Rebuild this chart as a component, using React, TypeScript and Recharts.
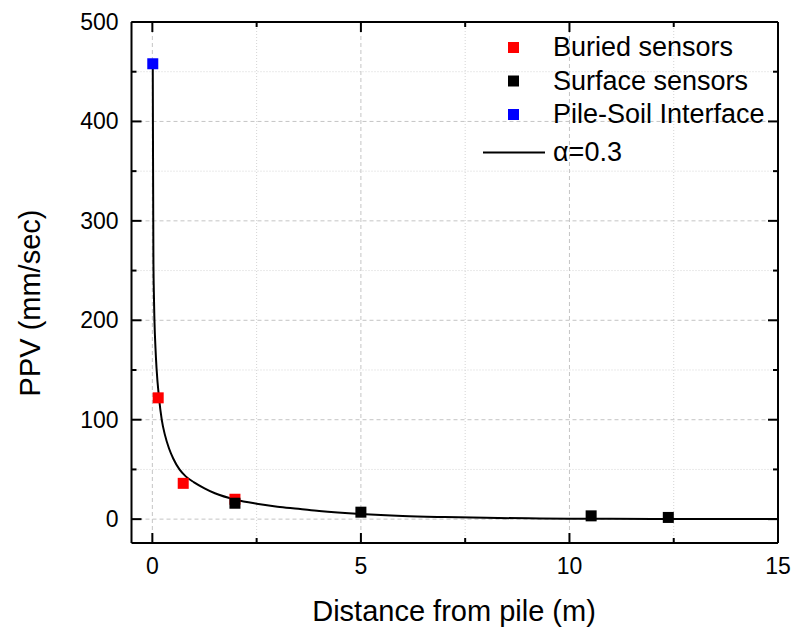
import React from 'react';
import { ComposedChart, Scatter, Line, XAxis, YAxis, CartesianGrid } from 'recharts';

// measured points
const buried = [
  { x: 0.14, y: 122 },
  { x: 0.74, y: 36 },
  { x: 1.98, y: 20 },
];
const surface = [
  { x: 1.98, y: 16 },
  { x: 5.0, y: 7 },
  { x: 10.52, y: 3.3 },
  { x: 12.37, y: 1.7 },
];
const pileSoil = [{ x: 0.01, y: 458 }];

// alpha = 0.3 curve
const fitCurve = [
  { x: 0.01, y: 455 }, { x: 0.015, y: 380 }, { x: 0.02, y: 320 }, { x: 0.025, y: 265 },
  { x: 0.035, y: 230 }, { x: 0.05, y: 200 }, { x: 0.075, y: 172 }, { x: 0.1, y: 152 },
  { x: 0.16, y: 122 }, { x: 0.225, y: 100 }, { x: 0.3, y: 85 }, { x: 0.4, y: 71 },
  { x: 0.5, y: 61 }, { x: 0.65, y: 50 }, { x: 0.8, y: 43 }, { x: 1.0, y: 37 },
  { x: 1.25, y: 31 }, { x: 1.5, y: 26 }, { x: 2.0, y: 19.5 }, { x: 2.5, y: 15.5 },
  { x: 3.0, y: 12.5 }, { x: 3.5, y: 10.5 }, { x: 4.0, y: 8.3 }, { x: 5.0, y: 5.2 },
  { x: 6.0, y: 3.2 }, { x: 7.0, y: 2.1 }, { x: 8.0, y: 1.3 }, { x: 9.0, y: 0.8 },
  { x: 10.0, y: 0.5 }, { x: 11.0, y: 0.3 }, { x: 12.0, y: 0.2 }, { x: 13.5, y: 0.1 },
  { x: 15.0, y: 0.05 },
];

const xTicks = [0, 2.5, 5, 7.5, 10, 12.5, 15];
const yTicks = [0, 50, 100, 150, 200, 250, 300, 350, 400, 450, 500];
const xMajor = [0, 5, 10, 15];
const xMinor = [2.5, 7.5, 12.5];
const yMajor = [0, 100, 200, 300, 400, 500];
const yMinor = [50, 150, 250, 350, 450];

const FONT = 'Arial, "Liberation Sans", sans-serif';

const square = (color: string) => (props: any) => (
  <rect x={props.cx - 5.5} y={props.cy - 5.5} width={11} height={11} fill={color} />
);

const BottomTick = (props: any) => {
  const { x, y, payload } = props;
  const major = payload.value % 5 === 0;
  return (
    <g>
      <line x1={x} y1={y} x2={x} y2={y - (major ? 10 : 5)} stroke="#000" strokeWidth={2} />
      {major && (
        <text x={x} y={y + 31} textAnchor="middle" fontSize={23} fontFamily={FONT} fill="#000">
          {payload.value}
        </text>
      )}
    </g>
  );
};

const TopTick = (props: any) => {
  const { x, y, payload } = props;
  const major = payload.value % 5 === 0;
  return <line x1={x} y1={y} x2={x} y2={y + (major ? 10 : 5)} stroke="#000" strokeWidth={2} />;
};

const LeftTick = (props: any) => {
  const { x, y, payload } = props;
  const major = payload.value % 100 === 0;
  return (
    <g>
      <line x1={x} y1={y} x2={x + (major ? 10 : 5)} y2={y} stroke="#000" strokeWidth={2} />
      {major && (
        <text x={x - 13} y={y + 8} textAnchor="end" fontSize={23} fontFamily={FONT} fill="#000">
          {payload.value}
        </text>
      )}
    </g>
  );
};

const RightTick = (props: any) => {
  const { x, y, payload } = props;
  const major = payload.value % 100 === 0;
  return <line x1={x} y1={y} x2={x - (major ? 10 : 5)} y2={y} stroke="#000" strokeWidth={2} />;
};

export default function App() {
  return (
    <div style={{ position: 'absolute', left: 0, top: 0, width: 793, height: 628, background: '#fff' }}>
      <ComposedChart width={793} height={628} margin={{ top: 0, right: 0, bottom: 0, left: 0 }}>
        <CartesianGrid
          horizontalValues={yMinor}
          verticalValues={xMinor}
          stroke="#d4d4d4"
          strokeDasharray="1 2"
        />
        <CartesianGrid
          horizontalValues={yMajor}
          verticalValues={xMajor}
          stroke="#c4c4c4"
          strokeDasharray="4 3"
        />
        <XAxis
          dataKey="x"
          type="number"
          domain={[-0.5, 15]}
          ticks={xTicks}
          interval={0}
          allowDataOverflow
          height={85}
          tickSize={0}
          tickMargin={0}
          tick={<BottomTick />}
          axisLine={{ stroke: '#000', strokeWidth: 2 }}
          label={() => (
            <text x={454} y={621} textAnchor="middle" fontSize={29} fontFamily={FONT} fill="#000">
              Distance from pile (m)
            </text>
          )}
        />
        <XAxis
          xAxisId="top"
          orientation="top"
          dataKey="x"
          type="number"
          domain={[-0.5, 15]}
          ticks={xTicks}
          interval={0}
          allowDataOverflow
          height={22}
          tickSize={0}
          tickMargin={0}
          tick={<TopTick />}
          axisLine={{ stroke: '#000', strokeWidth: 2 }}
        />
        <YAxis
          dataKey="y"
          type="number"
          domain={[-24, 500]}
          ticks={yTicks}
          interval={0}
          allowDataOverflow
          width={131.5}
          tickSize={0}
          tickMargin={0}
          tick={<LeftTick />}
          axisLine={{ stroke: '#000', strokeWidth: 2 }}
          label={() => (
            <text
              x={40}
              y={303}
              transform="rotate(-90 40 303)"
              textAnchor="middle"
              fontSize={29}
              fontFamily={FONT}
              fill="#000"
            >
              PPV (mm/sec)
            </text>
          )}
        />
        <YAxis
          yAxisId="right"
          orientation="right"
          type="number"
          domain={[-24, 500]}
          ticks={yTicks}
          interval={0}
          allowDataOverflow
          width={15}
          tickSize={0}
          tickMargin={0}
          tick={<RightTick />}
          axisLine={{ stroke: '#000', strokeWidth: 2 }}
        />
        <Scatter data={buried} dataKey="y" shape={square('#ff0000')} isAnimationActive={false} />
        <Scatter data={surface} dataKey="y" shape={square('#000000')} isAnimationActive={false} />
        <Scatter data={pileSoil} dataKey="y" shape={square('#0000ff')} isAnimationActive={false} />
        <Line
          data={fitCurve}
          dataKey="y"
          type="monotone"
          stroke="#000"
          strokeWidth={2}
          dot={false}
          activeDot={false}
          isAnimationActive={false}
        />
      </ComposedChart>

      {/* legend, sits inside the plot top-right */}
      <svg
        width={793}
        height={628}
        style={{ position: 'absolute', left: 0, top: 0, pointerEvents: 'none' }}
        fontFamily={FONT}
        fontSize={27}
      >
        <rect x={508} y={42} width={11} height={11} fill="#ff0000" />
        <text x={553} y={56}>Buried sensors</text>
        <rect x={508} y={75.5} width={11} height={11} fill="#000000" />
        <text x={553} y={89.5}>Surface sensors</text>
        <rect x={508} y={109} width={11} height={11} fill="#0000ff" />
        <text x={553} y={123}>Pile-Soil Interface</text>
        <line x1={483} y1={152.5} x2={545} y2={152.5} stroke="#000" strokeWidth={2} />
        <text x={553} y={161}>α=0.3</text>
      </svg>
    </div>
  );
}
